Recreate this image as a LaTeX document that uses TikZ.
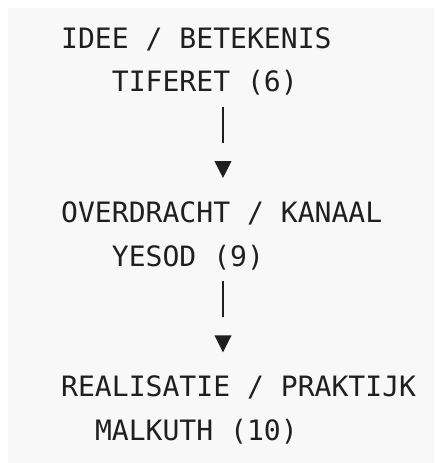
\documentclass[tikz,border=0pt]{standalone}
\usepackage{fontspec}
\setmonofont{DejaVu Sans Mono}
\usepackage{tikz}
\usetikzlibrary{arrows.meta,positioning}
\definecolor{codebg}{HTML}{F8F8F8}
\definecolor{codeink}{HTML}{1F1F1F}
\newcommand{\codefont}{\ttfamily\fontsize{28.07}{28.07}\selectfont}

\begin{document}
\begin{tikzpicture}[x=1pt,y=1pt,
                    codeline/.style={anchor=base west, inner sep=0pt, text=codeink, font=\codefont},
                    flow/.style={codeink, line width=1.6pt, dash pattern=on 36pt off 400pt,
                                 -{Triangle[width=16.7pt,length=17pt]}},
                   ]

\useasboundingbox (0,0) rectangle (434,-463);
\fill[codebg] (8,-8) rectangle (434,-463);

\node[codeline] (idee) at (61,-48) {IDEE / BETEKENIS};
\node[codeline] (tif) at (111.7,-91.6) {TIFERET (6)};

\node[codeline] (ovr) at (61,-222.4) {OVERDRACHT / KANAAL};
\node[codeline] (yes) at (111.7,-266) {YESOD (9)};

\node[codeline] (real) at (61,-396.8) {REALISATIE / PRAKTIJK};
\node[codeline] (mal) at (94.8,-440.4) {MALKUTH (10)};

% stem + tip between the blocks
\coordinate (tifout) at (223,-106.7);
\coordinate (ovrin) at (223,-178);
\coordinate (yesout) at (223,-281.1);
\coordinate (realin) at (223,-352.4);

\draw[flow] (tifout) -- (ovrin);
\draw[flow] (yesout) -- (realin);

\end{tikzpicture}
\end{document}
